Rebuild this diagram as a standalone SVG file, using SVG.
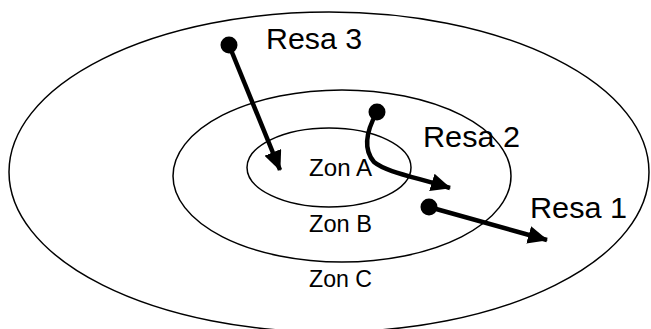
<svg xmlns="http://www.w3.org/2000/svg" width="651" height="329" viewBox="0 0 651 329">
<style>
.zone{fill:none;stroke:#000;stroke-width:1.5}
.path{fill:none;stroke:#000;stroke-width:4.5}
.big{font-family:"Liberation Sans",Arial,sans-serif;font-size:29px;fill:#000}
.small{font-family:"Liberation Sans",Arial,sans-serif;font-size:23px;fill:#000}
</style>
<defs>
<marker id="arr" markerUnits="userSpaceOnUse" markerWidth="20" markerHeight="18" viewBox="0 0 20 18" refX="19" refY="9" orient="auto">
<path d="M0,0 L20,9 L0,18 z" fill="#000"/>
</marker>
</defs>
<rect width="651" height="329" fill="#fff"/>
<g id="zone-c"><ellipse class="zone" cx="329" cy="172" rx="320" ry="160"/><text class="small" x="309" y="287" textLength="63" lengthAdjust="spacingAndGlyphs">Zon C</text></g>
<g id="zone-b"><ellipse class="zone" cx="342" cy="176" rx="169" ry="86"/><text class="small" x="309" y="232" textLength="63" lengthAdjust="spacingAndGlyphs">Zon B</text></g>
<g id="zone-a"><ellipse class="zone" cx="329" cy="167.5" rx="82" ry="39.5"/><text class="small" x="309" y="176" textLength="63" lengthAdjust="spacingAndGlyphs">Zon A</text></g>
<g id="connectors">
<g id="resa3"><circle cx="229" cy="45" r="8.5"/><line class="path" x1="229" y1="45" x2="280" y2="170" marker-end="url(#arr)"/></g>
<g id="resa2"><circle cx="377" cy="112" r="8.5"/><path class="path" d="M377,112 C368,128 362,148 374,162 C386,172 415,177 450,188" marker-end="url(#arr)"/></g>
<g id="resa1"><circle cx="429" cy="207" r="8.5"/><line class="path" x1="429" y1="207" x2="547" y2="240" marker-end="url(#arr)"/></g>
</g>
<g id="labels">
<text class="big" x="266" y="49" textLength="96" lengthAdjust="spacingAndGlyphs">Resa 3</text>
<text class="big" x="423" y="147" textLength="97" lengthAdjust="spacingAndGlyphs">Resa 2</text>
<text class="big" x="530" y="218" textLength="97" lengthAdjust="spacingAndGlyphs">Resa 1</text>
</g>
</svg>
